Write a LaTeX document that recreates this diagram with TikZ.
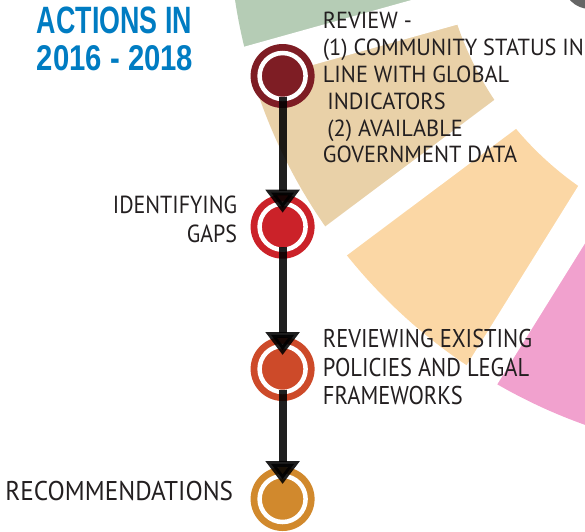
\documentclass[tikz,border=0pt]{standalone}
\usepackage{fontspec}
\usepackage{graphicx}
\setmainfont{PT Sans}
\newfontfamily\titlefont{Liberation Sans}
\newfontfamily\fontA{PT Sans}[FakeStretch=0.96]
\newfontfamily\fontB{PT Sans}[FakeStretch=0.89]
\newfontfamily\fontC{PT Sans}[FakeStretch=0.875]
\newfontfamily\fontD{PT Sans}[FakeStretch=0.93]
\usetikzlibrary{arrows.meta,calc}
\definecolor{sgreen}{RGB}{181,204,181}
\definecolor{stan}{RGB}{233,209,168}
\definecolor{speach}{RGB}{251,215,165}
\definecolor{spink}{RGB}{241,161,206}
\definecolor{cone}{RGB}{126,29,36}
\definecolor{ctwo}{RGB}{203,34,41}
\definecolor{cthree}{RGB}{205,74,41}
\definecolor{cfour}{RGB}{209,137,45}
\definecolor{tblue}{RGB}{0,124,194}
\definecolor{tink}{RGB}{35,31,32}
\tikzset{
  stepdisc/.style={circle, minimum size=64pt, inner sep=0pt, fill=#1},
  innerdisc/.style={circle, minimum size=41pt, inner sep=0pt},
  flow/.style={draw=black, opacity=0.88, line width=8pt, -{Triangle[width=33pt,length=23pt]}},
  lbl/.style={inner sep=0pt, text=tink},
}
\begin{document}
\begin{tikzpicture}[x=1pt,y=-1pt]
\useasboundingbox (0,0) rectangle (585,531);
\coordinate (C) at (765,-80);
% ring sectors
\foreach \a/\b/\col in {164.4/192/sgreen, 143.2/164.4/stan, 121.9/143.2/speach, 96/121.9/spink}{
  \fill[\col] ([shift={(\a:325)}]C) arc[start angle=\a, end angle=\b, radius=325]
     -- ([shift={(\b:536)}]C) arc[start angle=\b, end angle=\a, radius=536] -- cycle;
}
\foreach \a in {164.4,143.2,121.9}{
  \draw[white, line width=36pt] ([shift={(\a:300)}]C) -- ([shift={(\a:560)}]C);
}
% grey shape at top right
\fill[black!60] (590,-18) circle[radius=27];
% title
\node[anchor=north west, inner sep=0pt, text=tblue] (t1) at (36.7,6.7)
  {\resizebox{155pt}{26.6pt}{\titlefont\bfseries ACTIONS IN}};
\node[anchor=north west, inner sep=0pt, text=tblue] (t2) at (36.7,45)
  {\resizebox{156.3pt}{25pt}{\titlefont\bfseries 2016 - 2018}};
% steps
\foreach \i/\y/\col in {1/76/cone, 2/226.7/ctwo, 3/369/cthree, 4/499/cfour}{
  \node[stepdisc=\col] (s\i) at (282.6,\y) {};
  \draw[white, line width=4.5pt] (s\i.center) circle[radius=23];
  \node[innerdisc] (d\i) at (s\i.center) {};
}
\draw[flow] (d1.south) -- ([yshift=14pt]s2.center);
\draw[flow] (d2.south) -- ([yshift=14pt]s3.center);
\draw[flow] (d3.south) -- ([yshift=15pt]s4.center);
% labels
\node[lbl, anchor=north west, align=left, font=\fontA\fontsize{23.3}{26.9}\selectfont] (l1) at (322.7,11.7)
  {REVIEW -\\(1) COMMUNITY STATUS IN\\LINE WITH GLOBAL\\\hspace*{4.5pt}INDICATORS\\\hspace*{4.5pt}(2) AVAILABLE\\GOVERNMENT DATA};
\node[lbl, anchor=north east, align=right, font=\fontB\fontsize{24.7}{28.4}\selectfont] (l2) at (237.3,196)
  {IDENTIFYING\\GAPS};
\node[lbl, anchor=north west, align=left, font=\fontC\fontsize{25.7}{28.7}\selectfont] (l3) at (322.7,329)
  {REVIEWING EXISTING\\POLICIES AND LEGAL\\FRAMEWORKS};
\node[lbl, anchor=north east, font=\fontD\fontsize{27.1}{30}\selectfont] (l4) at (233.3,481)
  {RECOMMENDATIONS};
\end{tikzpicture}
\end{document}
